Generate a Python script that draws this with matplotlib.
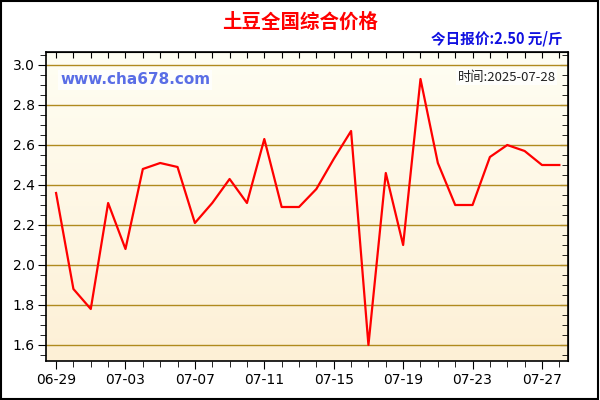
import numpy as np
import matplotlib.pyplot as plt
from matplotlib.ticker import MultipleLocator
from matplotlib.colors import LinearSegmentedColormap

plt.rcParams['font.family'] = ['DejaVu Sans', 'Noto Sans CJK SC']

# data
dates = ["06-29", "06-30", "07-01", "07-02", "07-03", "07-04", "07-05", "07-06",
         "07-07", "07-08", "07-09", "07-10", "07-11", "07-12", "07-13", "07-14",
         "07-15", "07-16", "07-17", "07-18", "07-19", "07-20", "07-21", "07-22",
         "07-23", "07-24", "07-25", "07-26", "07-27", "07-28"]
prices = [2.36, 1.88, 1.78, 2.31, 2.08, 2.48, 2.51, 2.49,
          2.21, 2.31, 2.43, 2.31, 2.63, 2.29, 2.29, 2.38,
          2.53, 2.67, 1.60, 2.46, 2.10, 2.93, 2.51, 2.30,
          2.30, 2.54, 2.60, 2.57, 2.50, 2.50]
title = "土豆全国综合价格"
today_text = "今日报价:2.50 元/斤"
time_text = "时间:2025-07-28"
site_text = "www.cha678.com"

x = np.arange(len(dates))

fig = plt.figure(figsize=(6, 4), dpi=100)
fig.patch.set_facecolor("white")
ax = fig.add_axes([46 / 600, 1 - 361 / 400, 522 / 600, 309 / 400])

# background gradient
cmap = LinearSegmentedColormap.from_list("bg", ["#fffef3", "#fdf0d6"])
ax.imshow(np.linspace(0, 1, 256).reshape(-1, 1), cmap=cmap, aspect="auto",
          extent=[-0.58, 29.5, 1.52, 3.065], origin="upper", zorder=0)

ax.set_xlim(-0.58, 29.5)
ax.set_ylim(1.52, 3.065)

ax.yaxis.set_major_locator(MultipleLocator(0.2))
ax.yaxis.set_minor_locator(MultipleLocator(0.05))
ax.set_xticks(x[::4])
ax.set_xticklabels(dates[::4])
ax.set_xticks(x, minor=True)
ax.grid(axis="y", which="major", color="#b08a1e", linewidth=1.0, zorder=1)

ax.plot(x, prices, color="#ff0000", linewidth=1.6, zorder=3)

ax.tick_params(axis="both", which="both", color="black", labelsize=10)
ax.tick_params(axis="x", which="major", length=6, direction="out", pad=3)
ax.tick_params(axis="x", which="minor", length=4, direction="out")
ax.tick_params(axis="y", which="major", length=6, direction="out", pad=2)
ax.tick_params(axis="y", which="minor", length=4, direction="out")
ax.yaxis.set_major_formatter(plt.FuncFormatter(lambda v, p: f"{v:.1f}"))

# secondary ticks on top and right, pointing inward
ax2 = ax.secondary_xaxis("top")
ax2.set_xticks(x)
ax2.tick_params(direction="in", length=4, labeltop=False)
ax3 = ax.secondary_yaxis("right")
ax3.yaxis.set_major_locator(MultipleLocator(0.2))
ax3.yaxis.set_minor_locator(MultipleLocator(0.05))
ax3.tick_params(which="major", direction="in", length=6, labelright=False)
ax3.tick_params(which="minor", direction="in", length=4)
for s in ax.spines.values():
    s.set_linewidth(1.2)

fig.text(0.5, 1 - 22 / 400, title, ha="center", va="center", color="#ff0000",
         fontsize=14, fontweight="bold", family=["Noto Sans CJK SC", "DejaVu Sans"])
fig.text(563 / 600, 1 - 38 / 400, today_text, ha="right", va="center", color="#1010e0",
         fontsize=10.5, fontweight="bold", family=["Noto Sans CJK SC", "DejaVu Sans"])
ax.text(60 / 600, 1 - 80 / 400, site_text, transform=fig.transFigure, ha="left", va="center",
        color="#5a6ee6", fontsize=11, fontweight="bold",
        bbox=dict(facecolor="white", edgecolor="none", pad=1.5, alpha=0.8), zorder=5)
ax.text(556 / 600, 1 - 77 / 400, time_text, transform=fig.transFigure, ha="right", va="center",
        color="#222222", fontsize=9.5, family=["Noto Sans CJK SC", "DejaVu Sans"],
        bbox=dict(facecolor="white", edgecolor="none", pad=1, alpha=0.8), zorder=5)

# figure border
fig.patches.append(plt.Rectangle((0.002, 0.003), 0.995, 0.994, transform=fig.transFigure,
                                 fill=False, edgecolor="black", linewidth=1.5))

fig.savefig("out.png", dpi=100)
